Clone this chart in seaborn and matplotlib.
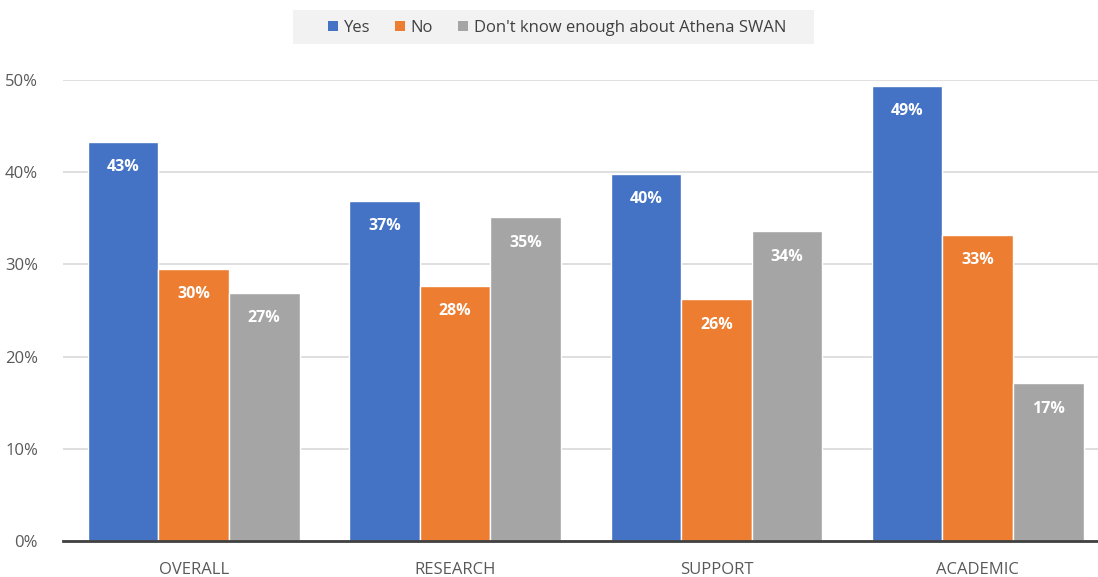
import matplotlib
matplotlib.use("Agg")
import matplotlib.pyplot as plt
import seaborn as sns
import pandas as pd
from matplotlib.patches import Patch, Rectangle

categories = ["OVERALL", "RESEARCH", "SUPPORT", "ACADEMIC"]
series_names = ["Yes", "No", "Don't know enough about Athena SWAN"]
yes_vals = [43.3, 36.9, 39.8, 49.4]
no_vals = [29.5, 27.7, 26.2, 33.2]
dk_vals = [26.9, 35.1, 33.6, 17.1]
colors = ["#4472C4", "#ED7D31", "#A5A5A5"]
ytick_vals = [0, 10, 20, 30, 40, 50]

rows = []
for name, vals in zip(series_names, [yes_vals, no_vals, dk_vals]):
    for c, v in zip(categories, vals):
        rows.append({"category": c, "series": name, "value": v})
df = pd.DataFrame(rows)

sns.set_theme(style="white")
plt.rcParams["font.family"] = ["Open Sans", "DejaVu Sans"]

fig = plt.figure(figsize=(10.98, 5.77), dpi=100)
ax = fig.add_axes([63 / 1098, 1 - 541 / 577, (1098 - 63) / 1098, (541 - 80) / 577])

sns.barplot(data=df, x="category", y="value", hue="series", order=categories,
            hue_order=series_names, palette=colors, width=0.81, ax=ax,
            edgecolor="white", linewidth=1, legend=False, saturation=1)

for container in ax.containers:
    labels = [f"{round(b.get_height()):.0f}%" for b in container]
    ax.bar_label(container, labels=labels, padding=-24, color="white",
                 fontweight="bold", fontsize=11.5)

ax.set_ylim(0, 50)
ax.set_xlim(-0.5, 3.46)
ax.set_yticks(ytick_vals)
ax.set_yticklabels([f"{v}%" for v in ytick_vals], color="#595959", fontsize=12)
ax.tick_params(axis="x", colors="#595959", labelsize=12, pad=15, length=0)
ax.tick_params(axis="y", length=0, pad=18)
ax.set_xlabel("")
ax.set_ylabel("")
ax.yaxis.grid(True, color="#D9D9D9", linewidth=1.2)
ax.set_axisbelow(True)
for s in ["top", "right", "left"]:
    ax.spines[s].set_visible(False)
ax.spines["bottom"].set_color("#404040")
ax.spines["bottom"].set_linewidth(2)

# legend background box
fig.patches.append(Rectangle((293 / 1098, 1 - 44 / 577), (814 - 293) / 1098, 34 / 577,
                             transform=fig.transFigure, facecolor="#F2F2F2",
                             edgecolor="none", zorder=0))
handles = [Patch(facecolor=c, edgecolor="none") for c in colors]
leg = fig.legend(handles, series_names, loc="center", bbox_to_anchor=(557 / 1098, 1 - 28 / 577),
                 ncol=3, frameon=False, fontsize=12, handlelength=0.6, handleheight=0.6,
                 handletextpad=0.35, columnspacing=1.5, labelcolor="#404040")

fig.savefig("out.png", dpi=100)
